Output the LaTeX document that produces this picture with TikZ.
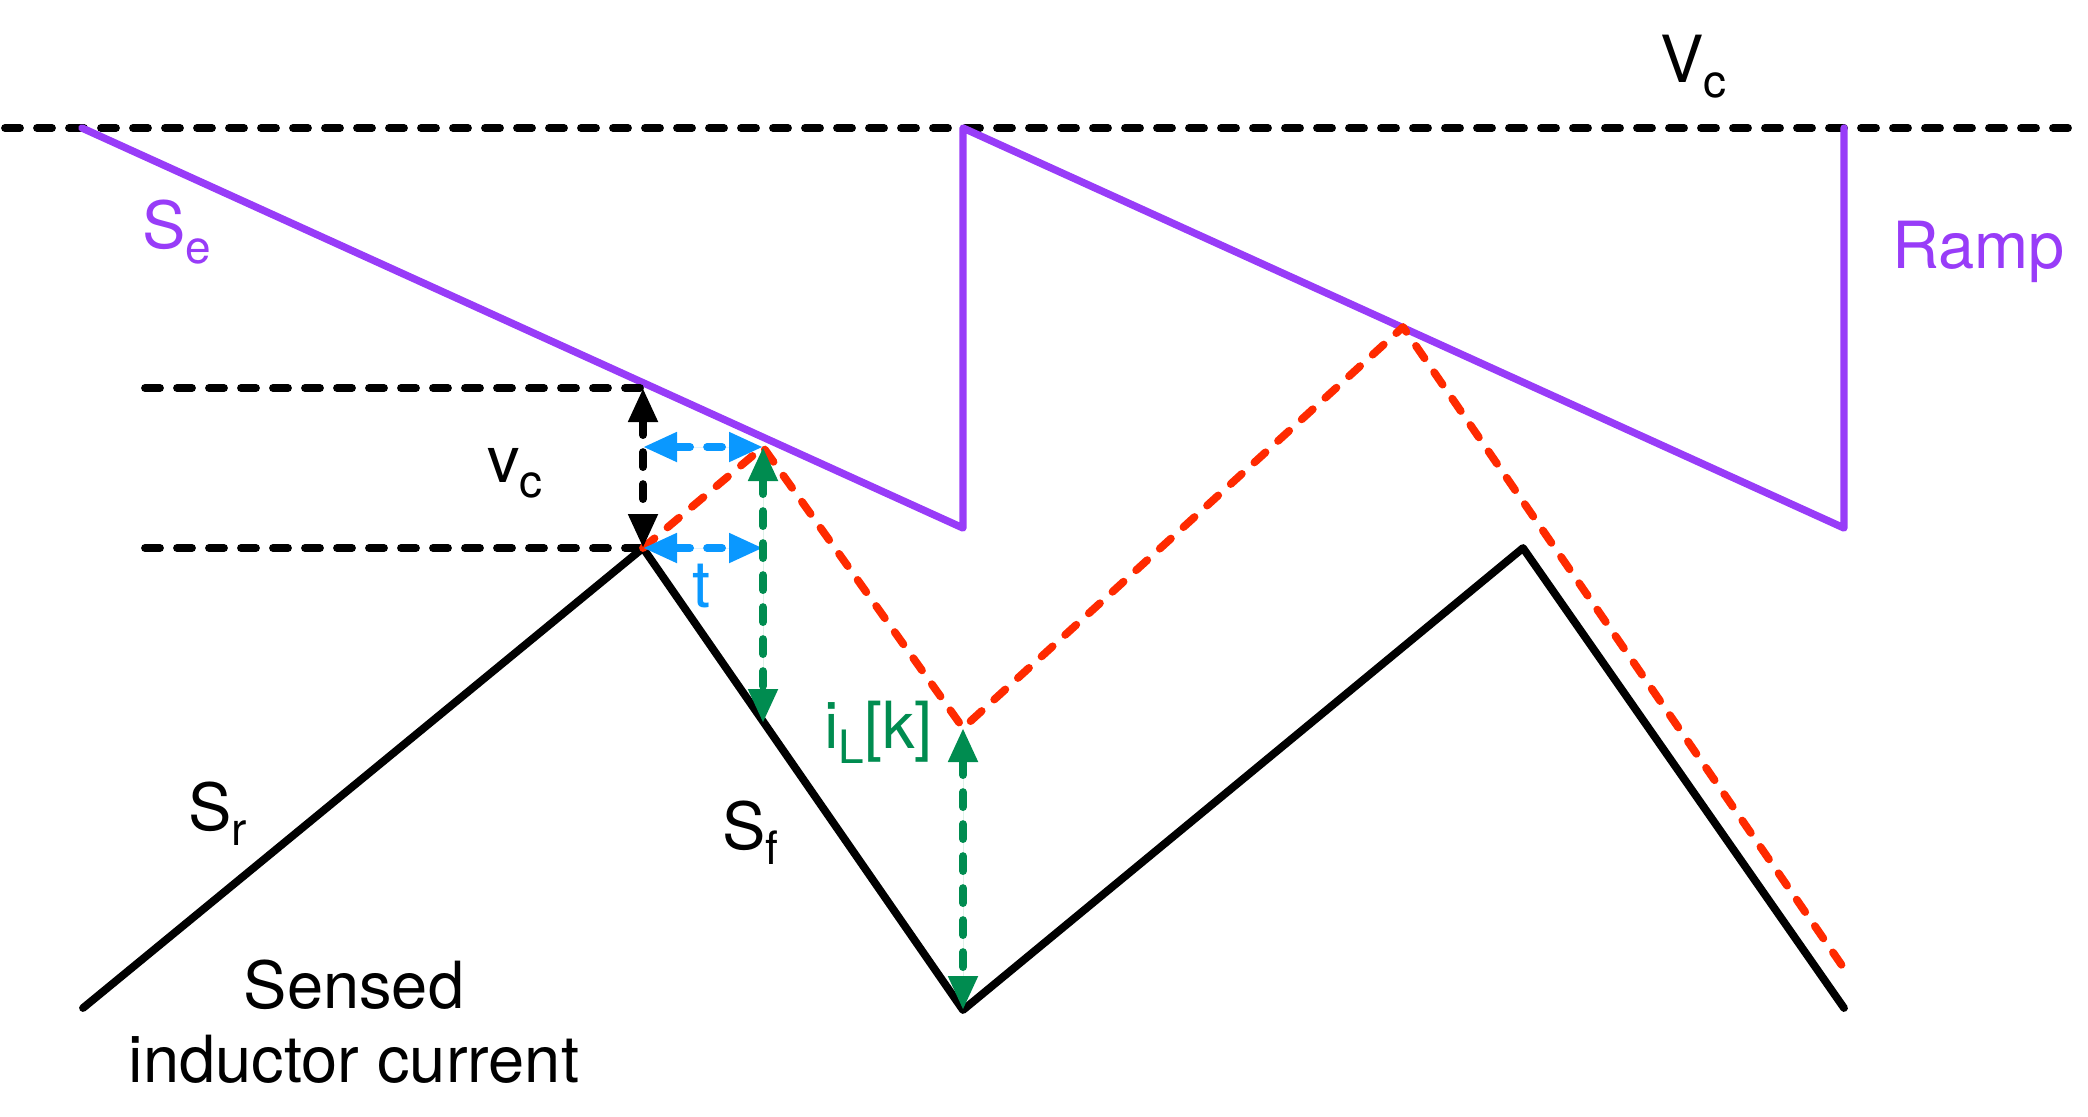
\documentclass[tikz,border=0pt]{standalone}
\usepackage{fontspec}
\setmainfont{TeX Gyre Heros}
\usetikzlibrary{arrows.meta}
\definecolor{rampc}{RGB}{152,60,248}
\definecolor{tblue}{RGB}{10,152,255}
\definecolor{igreen}{RGB}{0,140,80}
\definecolor{ired}{RGB}{255,42,0}
\newcommand{\mysub}[1]{\raisebox{-7.5pt}{\fontsize{23}{23}\selectfont #1}}
\begin{document}
\begin{tikzpicture}[x=0.5pt,y=-0.5pt,
  lbl/.style={inner sep=0pt, anchor=base west, font=\fontsize{32.5}{37}\selectfont},
  solidline/.style={line width=3.9pt, line cap=round, line join=round},
  purpleline/.style={line width=3.7pt, line cap=round, line join=round, draw=rampc},
  dashline/.style={line width=3.9pt, line cap=round, dash pattern=on 7.5pt off 8.5pt},
  dimarrow/.style={dashline, {Triangle[width=14pt,length=17pt]}-{Triangle[width=14pt,length=17pt]}}]
\useasboundingbox (0,0) rectangle (2088,1116);

% reference points
\coordinate (vcl) at (5,128);
\coordinate (vcr) at (2072,128);
\coordinate (p0) at (82,128);
\coordinate (p1) at (963,528);
\coordinate (p2) at (963,128);
\coordinate (p3) at (1844,528);
\coordinate (p4) at (1844,128);
\coordinate (b0) at (83,1008);
\coordinate (b1) at (643,548);
\coordinate (b2) at (963,1010);
\coordinate (b3) at (1523,548);
\coordinate (b4) at (1844,1008);
\coordinate (r1) at (763,447);
\coordinate (r2) at (963,728);
\coordinate (r3) at (1403,327);
\coordinate (r4) at (1843,967);
\coordinate (hu) at (145,388);
\coordinate (hl) at (145,548);
\coordinate (hux) at (643,388);
\coordinate (blu) at (643,447);
\coordinate (gb) at (763,723);

% Vc level
\draw[dashline] (vcl) -- (vcr);
% ramp
\draw[purpleline] (p0) -- (p1) -- (p2) -- (p3) -- (p4);
% horizontal reference lines
\draw[dashline] (hu) -- (hux);
\draw[dashline] (hl) -- (b1);
% sensed inductor current
\draw[solidline] (b0) -- (b1) -- (b2) -- (b3) -- (b4);
% red dashed
\draw[dashline, draw=ired, line join=round] (b1) -- (r1) -- (r2) -- (r3) -- (r4);
% dimension arrows
\draw[dimarrow] (hux) -- (b1);
\draw[dimarrow, draw=tblue, fill=tblue] (blu) -- (r1);
\draw[dimarrow, draw=tblue, fill=tblue] (b1) -- (r1 |- b1);
\draw[dimarrow, draw=igreen, fill=igreen] (r1) -- (gb);
\draw[dimarrow, draw=igreen, fill=igreen] (r2) -- (b2);

% labels
\node[lbl] (lvc) at (1660,82) {V\mysub{c}};
\node[lbl, text=rampc] (lramp) at (1892,268) {Ramp};
\node[lbl, text=rampc] (lse) at (142,248) {S\mysub{e}};
\node[lbl] (lvsmall) at (487,482) {v\mysub{c}};
\node[lbl, text=tblue] (lt) at (692,607) {t};
\node[lbl, text=igreen] (lil) at (824,748) {i\mysub{L}[k]};
\node[lbl] (lsr) at (188,830) {S\mysub{r}};
\node[lbl] (lsf) at (722,849) {S\mysub{f}};
\node[lbl, anchor=base, align=center] (lsense) at (354,1082) {Sensed\\inductor current};
\end{tikzpicture}
\end{document}
